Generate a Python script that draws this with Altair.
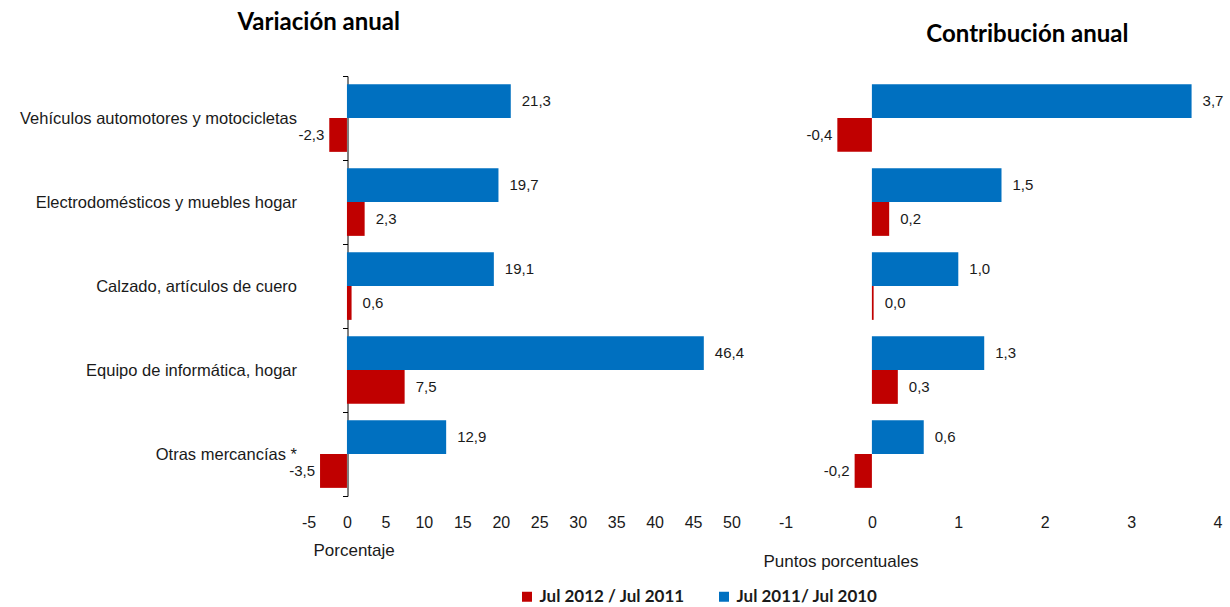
import altair as alt
import pandas as pd

categories = [
    "Vehículos automotores y motocicletas",
    "Electrodomésticos y muebles hogar",
    "Calzado, artículos de cuero",
    "Equipo de informática, hogar",
    "Otras mercancías  *",
]
series = ["Jul 2012 / Jul 2011", "Jul 2011/ Jul 2010"]
colors = ["#C00000", "#0070C0"]

var_2012 = [-2.3, 2.3, 0.6, 7.5, -3.5]
var_2011 = [21.3, 19.7, 19.1, 46.4, 12.9]
con_2012 = [-0.4, 0.2, 0.02, 0.3, -0.2]
con_2011 = [3.7, 1.5, 1.0, 1.3, 0.6]

var_ticks = [-5, 0, 5, 10, 15, 20, 25, 30, 35, 40, 45, 50]
con_ticks = [-1, 0, 1, 2, 3, 4]


def build(v12, v11):
    rows = []
    for c, a, b in zip(categories, v12, v11):
        rows.append({"cat": c, "series": series[0], "value": a,
                     "label": f"{a:.1f}".replace(".", ",")})
        rows.append({"cat": c, "series": series[1], "value": b,
                     "label": f"{b:.1f}".replace(".", ",")})
    return pd.DataFrame(rows)


df_var = build(var_2012, var_2011)
df_con = build(con_2012, con_2011)

color_scale = alt.Scale(domain=series, range=colors)
yoff_scale = alt.Scale(domain=[series[1], series[0]], paddingInner=0, paddingOuter=0.24)
y_scale = alt.Scale(domain=categories, paddingInner=0, paddingOuter=0)
LBL = "Liberation Sans"
TXT = "#1a1a1a"
H = 420


def panel(df, xdomain, xvals, title, title_anchor, title_dx, title_offset,
          xtitle, xtitle_x, xtitle_y, width, show_y, y_offset_px):
    if show_y:
        yaxis = alt.Axis(title=None, offset=-y_offset_px, domainColor="black", tickColor="black",
                         tickSize=5, tickBand="extent", labelPadding=46, labelFont=LBL,
                         labelFontSize=16.5, labelColor=TXT, labelLimit=400)
    else:
        yaxis = None
    x = alt.X("value:Q", scale=alt.Scale(domain=xdomain, nice=False, zero=True),
              axis=alt.Axis(values=xvals, title=None, domain=False, ticks=False, grid=False,
                            labelOverlap=False, labelFlush=False, labelExpr="'' + datum.value",
                            labelPadding=18, labelFont=LBL, labelFontSize=16, labelColor=TXT))
    base = alt.Chart(df).encode(
        x=x,
        y=alt.Y("cat:N", scale=y_scale, sort=categories, axis=yaxis),
        yOffset=alt.YOffset("series:N", scale=yoff_scale),
    )
    bars = base.mark_bar().encode(
        color=alt.Color("series:N", scale=color_scale,
                        legend=alt.Legend(title=None, orient="none", direction="horizontal",
                                          legendX=210, legendY=512, symbolType="square",
                                          symbolSize=100, symbolStrokeWidth=0,
                                          labelFont="Lato", labelFontWeight="bold",
                                          labelFontSize=17, labelColor=TXT,
                                          columnPadding=30)),
    )
    pos = base.mark_text(align="left", baseline="middle", dx=11, font=LBL, fontSize=15,
                         color=TXT).encode(text="label:N").transform_filter(
        alt.datum.value >= 0)
    neg = base.mark_text(align="right", baseline="middle", dx=-5, font=LBL, fontSize=15,
                         color=TXT).encode(text="label:N").transform_filter(
        alt.datum.value < 0)
    axis_title = alt.Chart(pd.DataFrame({"t": [xtitle]})).mark_text(
        align="left", baseline="alphabetic", font=LBL, fontSize=17, color=TXT
    ).encode(x=alt.value(xtitle_x), y=alt.value(H + xtitle_y), text="t:N")
    return alt.layer(bars, pos, neg, axis_title).properties(
        width=width, height=H,
        title=alt.TitleParams(title, anchor=title_anchor, frame="group", dx=title_dx,
                              offset=title_offset, font="Lato", fontSize=24,
                              fontWeight="bold", color="black"),
    )


left = panel(df_var, [-5, 50], var_ticks, "Variación anual", "start", -71, 33,
             "Porcentaje", 5, 60, 423, True, 39)
right = panel(df_con, [-1, 4], con_ticks, "Contribución anual", "end", -89, 29,
              "Puntos porcentuales", -22, 71, 432, False, 0)

chart = alt.hconcat(left, right, spacing=54, bounds="flush").configure(
    padding={"left": 19.5, "top": 11, "right": 0, "bottom": 0}
).configure_view(stroke=None).configure_concat(spacing=54)

chart.save("out.html", embed_options={"renderer": "svg", "actions": False})
